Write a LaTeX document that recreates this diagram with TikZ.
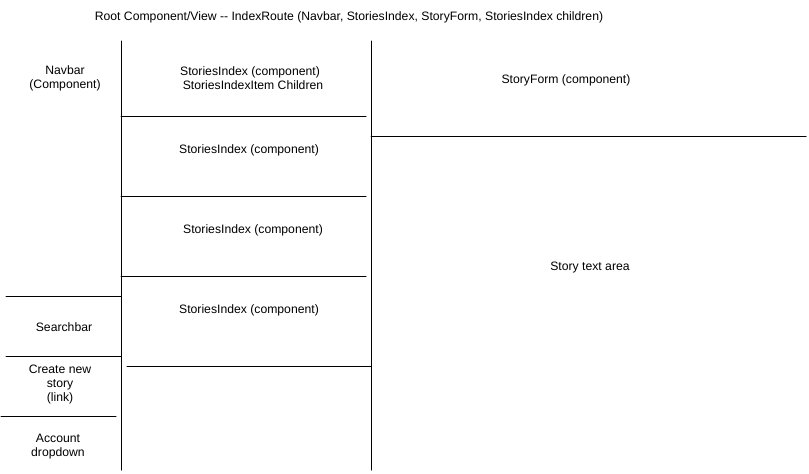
\documentclass[tikz,border=0pt]{standalone}
\usepackage{fontspec}
\setmainfont{Liberation Sans}

\begin{document}
\begin{tikzpicture}[x=1pt, y=-1pt, line join = round, line cap = round,
    txt/.style={font=\fontsize{12.2}{14}\selectfont, align=center, inner sep=0pt}]
    \useasboundingbox (0,0) rectangle (809,474);

    \node[txt] (title) at (349,17) {Root Component/View -{}- IndexRoute (Navbar, StoriesIndex, StoryForm, StoriesIndex children)};

    % columns
    \draw[line width=1pt] (121,41) -- (121,470);
    \draw[line width=1pt] (371,41) -- (371,470);

    % left column
    \draw[line width=1pt] (6,296) -- (121,296);
    \draw[line width=1pt] (6,356) -- (121,356);
    \draw[line width=1pt] (1,416) -- (116,416);
    \node[txt] (navbar) at (65,78) {Navbar\\(Component)};
    \node[txt] (search) at (64,327) {Searchbar};
    \node[txt] (create) at (60,384) {Create new\\story\\(link)};
    \node[txt] (account) at (58,447) {Account\\dropdown};

    % middle column
    \draw[line width=1pt] (121,116) -- (366,116);
    \draw[line width=1pt] (121,196) -- (366,196);
    \draw[line width=1pt] (121,276) -- (366,276);
    \draw[line width=1pt] (127,366) -- (371,366);
    \node[txt] (index1) at (250,78) {StoriesIndex (component)\\\hspace*{6pt}StoriesIndexItem Children};
    \node[txt] (index2) at (249,150) {StoriesIndex (component)};
    \node[txt] (index3) at (253,230) {StoriesIndex (component)};
    \node[txt] (index4) at (249,310) {StoriesIndex (component)};

    % right column
    \draw[line width=1pt] (371,136) -- (806,136);
    \node[txt] (form) at (566,80) {StoryForm (component)};
    \node[txt] (area) at (590,268) {Story text area};
\end{tikzpicture}
\end{document}
